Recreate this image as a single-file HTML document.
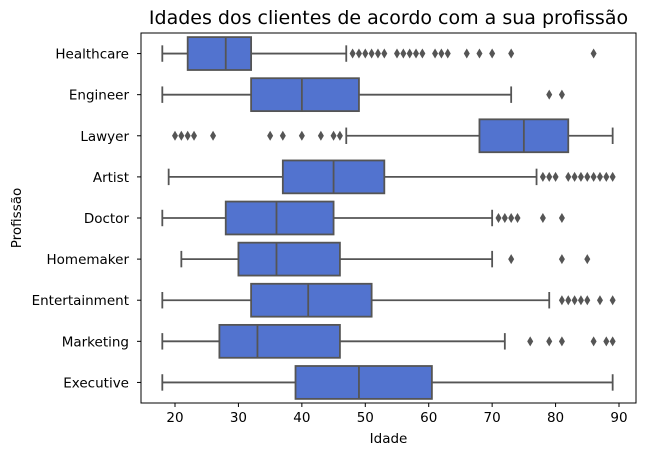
<!DOCTYPE html>
<html><head><meta charset="utf-8"><style>
body{margin:0;background:#fff}
svg{font-family:"DejaVu Sans","Liberation Sans",sans-serif}
</style></head><body>
<svg id="chart" width="645" height="456" xmlns="http://www.w3.org/2000/svg">
<text x="388.5" y="24" font-size="19" text-anchor="middle" fill="#000">Idades dos clientes de acordo com a sua profissão</text>
<text x="388.5" y="443" font-size="13.5" text-anchor="middle" fill="#000">Idade</text>
<text x="21" y="218" font-size="13.5" text-anchor="middle" fill="#000" transform="rotate(-90 21 218)">Profissão</text>
<g id="marks"></g>
<rect x="141" y="33" width="495" height="370" fill="none" stroke="#000" stroke-width="1"/>
</svg>
<script>
const categories=["Healthcare","Engineer","Lawyer","Artist","Doctor","Homemaker","Entertainment","Marketing","Executive"];
const whiskerLow=[18,18,47,19,18,21,18,18,18];
const q1=[22,32,68,37,28,30,32,27,39];
const medians=[28,40,75,45,36,36,41,33,49];
const q3=[32,49,82,53,45,46,51,46,60.5];
const whiskerHigh=[47,73,89,77,70,70,79,72,89];
const outliers=[
[48,49,50,51,52,53,55,56,57,58,59,61,62,63,66,68,70,73,86],
[79,81],
[20,21,22,23,26,35,37,40,43,45,46],
[78,79,80,82,83,84,85,86,87,88,89],
[71,72,73,74,78,81],
[73,81,85],
[81,82,83,84,85,87,89],
[76,79,81,86,88,89],
[]
];
const xTicks=[20,30,40,50,60,70,80,90];
const L=141,R=636,T=33,B=403,xmin=14.64,xmax=92.68;
const X=v=>L+(v-xmin)/(xmax-xmin)*(R-L);
const band=(B-T)/categories.length;
const Y=i=>T+band*(i+0.5);
const NS="http://www.w3.org/2000/svg";
const g=document.getElementById('marks');
function mk(t,a,p){const e=document.createElementNS(NS,t);for(const k in a)e.setAttribute(k,a[k]);(p||g).appendChild(e);return e;}
const lc="#555555";
xTicks.forEach(v=>{
  const t=mk('line',{x1:X(v),x2:X(v),y1:B,y2:B+4,stroke:'#000'});
  
  
  const l=mk('text',{x:X(v),y:B+19,'font-size':13.5,'text-anchor':'middle'});
  l.textContent=v;
  
  
});
categories.forEach((c,i)=>{
  const y=Y(i),h=band*0.8;
  const tk=mk('line',{x1:L-4,x2:L,y1:y,y2:y,stroke:'#000'});
  
  
  const lb=mk('text',{x:L-12,y:y+5,'font-size':13.5,'text-anchor':'end'});
  lb.textContent=c;
  
  
  const grp=mk('g',{});
  
  
  mk('line',{x1:X(whiskerLow[i]),x2:X(q1[i]),y1:y,y2:y,stroke:lc,'stroke-width':1.8},grp);
  mk('line',{x1:X(q3[i]),x2:X(whiskerHigh[i]),y1:y,y2:y,stroke:lc,'stroke-width':1.8},grp);
  mk('line',{x1:X(whiskerLow[i]),x2:X(whiskerLow[i]),y1:y-h/4,y2:y+h/4,stroke:lc,'stroke-width':1.8},grp);
  mk('line',{x1:X(whiskerHigh[i]),x2:X(whiskerHigh[i]),y1:y-h/4,y2:y+h/4,stroke:lc,'stroke-width':1.8},grp);
  mk('rect',{x:X(q1[i]),y:y-h/2,width:X(q3[i])-X(q1[i]),height:h,fill:'#5273cf',stroke:lc,'stroke-width':1.8},grp);
  mk('line',{x1:X(medians[i]),x2:X(medians[i]),y1:y-h/2,y2:y+h/2,stroke:lc,'stroke-width':1.8},grp);
  outliers[i].forEach(v=>{
    const x=X(v);
    const d=mk('polygon',{points:`${x},${y-5} ${x+3},${y} ${x},${y+5} ${x-3},${y}`,fill:lc},grp);
    
    
  });
});
</script>
</body></html>
